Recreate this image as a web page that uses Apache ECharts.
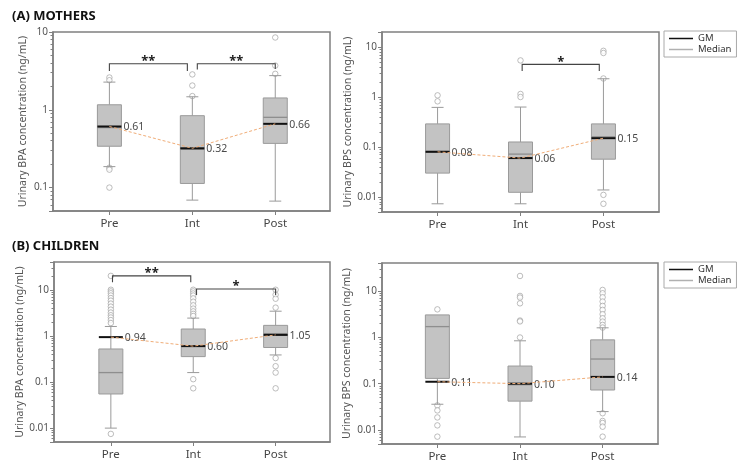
<!DOCTYPE html>
<html><head><meta charset="utf-8">
<script src="https://cdn.jsdelivr.net/npm/echarts@6/dist/echarts.min.js"></script>
<style>html,body{margin:0;padding:0;background:#fff}#c{width:741px;height:475px}</style>
</head><body><div id="c"></div>
<script>
const categories = ['Pre', 'Int', 'Post'];

// (A) Mothers, BPA
const mBPA_low  = [0.186, 0.069, 0.067];
const mBPA_q1   = [0.34, 0.113, 0.37];
const mBPA_med  = [0.59, 0.31, 0.80];
const mBPA_q3   = [1.16, 0.84, 1.42];
const mBPA_high = [2.27, 1.47, 2.75];
const mBPA_gm   = [0.61, 0.32, 0.66];
const mBPA_out  = [[2.6, 2.4, 0.18, 0.17, 0.10], [2.85, 2.05, 1.5], [8.5, 3.7, 2.9]];
const mBPA_sig  = [[1.0, 1.94, 3.9, 3.15, 3.15, '**'], [2.06, 3.0, 3.9, 3.3, 3.35, '**']];

// (A) Mothers, BPS
const mBPS_low  = [0.0073, 0.0073, 0.0138];
const mBPS_q1   = [0.030, 0.0124, 0.057];
const mBPS_med  = [0.082, 0.072, 0.16];
const mBPS_q3   = [0.29, 0.126, 0.29];
const mBPS_high = [0.62, 0.63, 2.32];
const mBPS_gm   = [0.08, 0.06, 0.15];
const mBPS_out  = [[1.08, 0.82], [5.4, 1.15, 1.0], [8.4, 7.6, 2.35, 0.011, 0.0073]];
const mBPS_sig  = [[2.02, 2.95, 4.5, 3.3, 3.3, '*']];

// (B) Children, BPA
const cBPA_low  = [0.01, 0.16, 0.386];
const cBPA_q1   = [0.055, 0.355, 0.56];
const cBPA_med  = [0.16, 0.60, 1.12];
const cBPA_q3   = [0.52, 1.41, 1.69];
const cBPA_high = [1.6, 2.43, 3.43];
const cBPA_gm   = [0.94, 0.60, 1.05];
const cBPA_out  = [
  [20, 10, 9.2, 8.4, 7.5, 6.6, 5.8, 5.0, 4.3, 3.7, 3.2, 2.8, 2.5, 2.2, 1.9, 0.0075],
  [10, 9.2, 8.3, 7.5, 6.5, 5.5, 4.6, 3.9, 3.4, 3.0, 2.7, 0.115, 0.073],
  [10, 7.8, 6.4, 4.1, 0.33, 0.22, 0.16, 0.073]
];
const cBPA_sig  = [[1.02, 1.97, 20, 14.6, 14.6, '**'], [2.04, 3.0, 10.4, 7.7, 7.7, '*']];

// (B) Children, BPS
const cBPS_low  = [0.036, 0.0071, 0.025];
const cBPS_q1   = [0.13, 0.042, 0.073];
const cBPS_med  = [1.7, 0.095, 0.34];
const cBPS_q3   = [3.04, 0.24, 0.88];
const cBPS_high = [3.04, 0.84, 1.6];
const cBPS_gm   = [0.11, 0.10, 0.14];
const cBPS_out  = [
  [4.0, 0.034, 0.0265, 0.0187, 0.0126, 0.0072],
  [21, 7.8, 7.2, 5.4, 2.3, 2.2, 0.99],
  [10.5, 8.9, 7.3, 5.9, 4.75, 3.9, 3.15, 2.58, 2.18, 1.85, 1.62, 0.023, 0.0157, 0.0142, 0.0118, 0.0072]
];
const cBPS_sig  = [];

const yMin = [0.05, 0.005, 0.005, 0.005];
const yMax = [10, 20, 40, 40];
const yNames = ['Urinary BPA concentration (ng/mL)', 'Urinary BPS concentration (ng/mL)',
                'Urinary BPA concentration (ng/mL)', 'Urinary BPS concentration (ng/mL)'];
const legendNames = ['GM', 'Median'];

const panels = [
  {low: mBPA_low, q1: mBPA_q1, med: mBPA_med, q3: mBPA_q3, high: mBPA_high, gm: mBPA_gm, out: mBPA_out, sig: mBPA_sig},
  {low: mBPS_low, q1: mBPS_q1, med: mBPS_med, q3: mBPS_q3, high: mBPS_high, gm: mBPS_gm, out: mBPS_out, sig: mBPS_sig},
  {low: cBPA_low, q1: cBPA_q1, med: cBPA_med, q3: cBPA_q3, high: cBPA_high, gm: cBPA_gm, out: cBPA_out, sig: cBPA_sig},
  {low: cBPS_low, q1: cBPS_q1, med: cBPS_med, q3: cBPS_q3, high: cBPS_high, gm: cBPS_gm, out: cBPS_out, sig: cBPS_sig}
];

// layout
const grids = [
  {left: 53, top: 32, width: 277, height: 179},
  {left: 382, top: 32, width: 277, height: 180},
  {left: 54, top: 262, width: 276, height: 180},
  {left: 382, top: 263, width: 276, height: 181}
];
const xRange = [[0.32, 3.66], [0.33, 3.67], [0.31, 3.66], [0.33, 3.67]];
const nameGaps = [24, 28, 25, 29];
const FONT = 'Noto Sans';
const AX = '#808080';

function pow10Label(v) {
  const l = Math.log10(v);
  const k = Math.round(l);
  if (Math.abs(l - k) > 1e-6) return '';
  return k >= 0 ? String(Math.pow(10, k)) : '0.' + '0'.repeat(-k - 1) + '1';
}

function boxRender(params, api) {
  const x = api.value(0);
  const c = (v) => api.coord([x, v]);
  const lo = c(api.value(1)), q1 = c(api.value(2)), md = c(api.value(3)),
        q3 = c(api.value(4)), hi = c(api.value(5)), gmP = c(api.value(6));
  const gmVal = api.value(6);
  const cx = lo[0], hw = 12, cw = 6;
  const ws = {stroke: '#9a9a9a', lineWidth: 1};
  const ch = [];
  if (hi[1] < q3[1] - 0.5) {
    ch.push({type: 'line', shape: {x1: cx, y1: hi[1], x2: cx, y2: q3[1]}, style: ws});
    ch.push({type: 'line', shape: {x1: cx - cw, y1: hi[1], x2: cx + cw, y2: hi[1]}, style: ws});
  }
  ch.push({type: 'line', shape: {x1: cx, y1: q1[1], x2: cx, y2: lo[1]}, style: ws});
  ch.push({type: 'line', shape: {x1: cx - cw, y1: lo[1], x2: cx + cw, y2: lo[1]}, style: ws});
  ch.push({type: 'rect', shape: {x: cx - hw, y: q3[1], width: 2 * hw, height: q1[1] - q3[1]},
           style: {fill: '#c3c3c3', stroke: '#9a9a9a', lineWidth: 1}});
  ch.push({type: 'line', shape: {x1: cx - hw, y1: md[1], x2: cx + hw, y2: md[1]},
           style: {stroke: '#8e8e8e', lineWidth: 1.3}});
  ch.push({type: 'line', shape: {x1: cx - hw, y1: gmP[1], x2: cx + hw, y2: gmP[1]},
           style: {stroke: '#111', lineWidth: 2}});
  ch.push({type: 'text', x: cx + hw + 2, y: gmP[1] + 1, z2: 10,
           style: {text: gmVal.toFixed(2), fill: '#4a4a4a', fontSize: 10.5, fontFamily: FONT,
                   align: 'left', verticalAlign: 'middle'}});
  return {type: 'group', children: ch};
}

function makeSigRender(list) {
  return function (params, api) {
    const r = list[params.dataIndex];
    const p1 = api.coord([r[0], r[2]]), p2 = api.coord([r[1], r[2]]);
    const e1 = api.coord([r[0], r[3]]), e2 = api.coord([r[1], r[4]]);
    return {type: 'group', children: [
      {type: 'polyline', shape: {points: [e1, p1, p2, e2]},
       style: {stroke: '#444', lineWidth: 1.1, fill: null}},
      {type: 'text', x: (p1[0] + p2[0]) / 2, y: p1[1] + 4,
       style: {text: r[5], fill: '#222', fontSize: 13, fontWeight: 'bold', fontFamily: FONT,
               align: 'center', verticalAlign: 'bottom'}}
    ]};
  };
}

const xAxes = [], yAxes = [], series = [];
panels.forEach((p, i) => {
  xAxes.push({
    type: 'value', gridIndex: i, min: xRange[i][0], max: xRange[i][1],
    axisLine: {show: true, lineStyle: {color: AX, width: 1.5}},
    axisTick: {show: true, customValues: [1, 2, 3], length: 4, lineStyle: {color: AX}},
    axisLabel: {customValues: [1, 2, 3], formatter: (v) => categories[Math.round(v) - 1],
                fontSize: 11.5, color: '#444', margin: 7, fontFamily: FONT},
    splitLine: {show: false}
  });
  yAxes.push({
    type: 'log', logBase: 10, gridIndex: i, min: yMin[i], max: yMax[i],
    axisLine: {show: true, lineStyle: {color: AX, width: 1.5}},
    axisTick: {show: true, length: 4, lineStyle: {color: AX}},
    minorTick: {show: true, splitNumber: 9, length: 2.5, lineStyle: {color: AX}},
    splitLine: {show: false},
    axisLabel: {formatter: pow10Label, fontSize: 10, color: '#555', margin: 5, fontFamily: FONT},
    name: yNames[i], nameLocation: 'middle', nameGap: nameGaps[i],
    nameTextStyle: {fontSize: 10.5, color: '#555', fontFamily: FONT}
  });
  const boxData = categories.map((c, k) => [k + 1, p.low[k], p.q1[k], p.med[k], p.q3[k], p.high[k], p.gm[k]]);
  series.push({
    type: 'custom', xAxisIndex: i, yAxisIndex: i, z: 2,
    renderItem: boxRender, data: boxData,
    encode: {x: 0, y: [1, 2, 3, 4, 5, 6]}, silent: true
  });
  const outData = [];
  p.out.forEach((arr, k) => arr.forEach(v => outData.push([k + 1, v])));
  series.push({
    type: 'scatter', xAxisIndex: i, yAxisIndex: i, z: 1,
    symbol: 'circle', symbolSize: 5.5,
    itemStyle: {color: '#fff', borderColor: '#a3a3a3', borderWidth: 0.9}, data: outData, silent: true
  });
  series.push({
    type: 'line', xAxisIndex: i, yAxisIndex: i, z: 3, symbol: 'none', silent: true,
    lineStyle: {color: '#f0ad78', width: 1, type: [3, 2]},
    data: categories.map((c, k) => [k + 1, p.gm[k]])
  });
  if (p.sig.length) {
    series.push({
      type: 'custom', xAxisIndex: i, yAxisIndex: i, z: 4, silent: true,
      renderItem: makeSigRender(p.sig),
      data: p.sig.map(r => [r[0], r[1], r[2], r[3], r[4]]),
      encode: {x: [0, 1], y: [2, 3, 4]}
    });
  }
});
// legend-only series
series.push({name: legendNames[0], type: 'line', xAxisIndex: 1, yAxisIndex: 1, data: [], symbol: 'none',
             color: '#111', lineStyle: {color: '#111', width: 1.5}});
series.push({name: legendNames[1], type: 'line', xAxisIndex: 1, yAxisIndex: 1, data: [], symbol: 'none',
             color: '#aaa', lineStyle: {color: '#aaa', width: 1}});

const legendData = [
  {name: legendNames[0], icon: 'rect', itemStyle: {color: '#111'}},
  {name: legendNames[1], icon: 'rect', itemStyle: {color: '#b0b0b0'}}
];
const legendBase = {
  orient: 'vertical', data: legendData, itemWidth: 24, itemHeight: 1.5, itemGap: 0,
  borderColor: '#aaa', borderWidth: 1, borderRadius: 0, padding: [2, 5, 2, 5],
  textStyle: {fontSize: 9.5, color: '#333', fontFamily: FONT, lineHeight: 11}, selectedMode: false
};

const option = {
  animation: false,
  backgroundColor: '#fff',
  title: [
    {text: '(A) MOTHERS', left: 12, top: 10, padding: 0,
     textStyle: {fontSize: 13, fontWeight: 'bold', color: '#111', fontFamily: FONT}},
    {text: '(B) CHILDREN', left: 12, top: 240, padding: 0,
     textStyle: {fontSize: 13, fontWeight: 'bold', color: '#111', fontFamily: FONT}}
  ],
  legend: [
    Object.assign({left: 664, top: 31}, legendBase),
    Object.assign({left: 664, top: 262}, legendBase)
  ],
  grid: grids.map(g => Object.assign({show: true, borderColor: AX, borderWidth: 1.5, backgroundColor: 'transparent'}, g)),
  xAxis: xAxes,
  yAxis: yAxes,
  series: series
};

const chart = echarts.init(document.getElementById('c'), null, {renderer: 'canvas'});
chart.setOption(option);
</script>
</body></html>
